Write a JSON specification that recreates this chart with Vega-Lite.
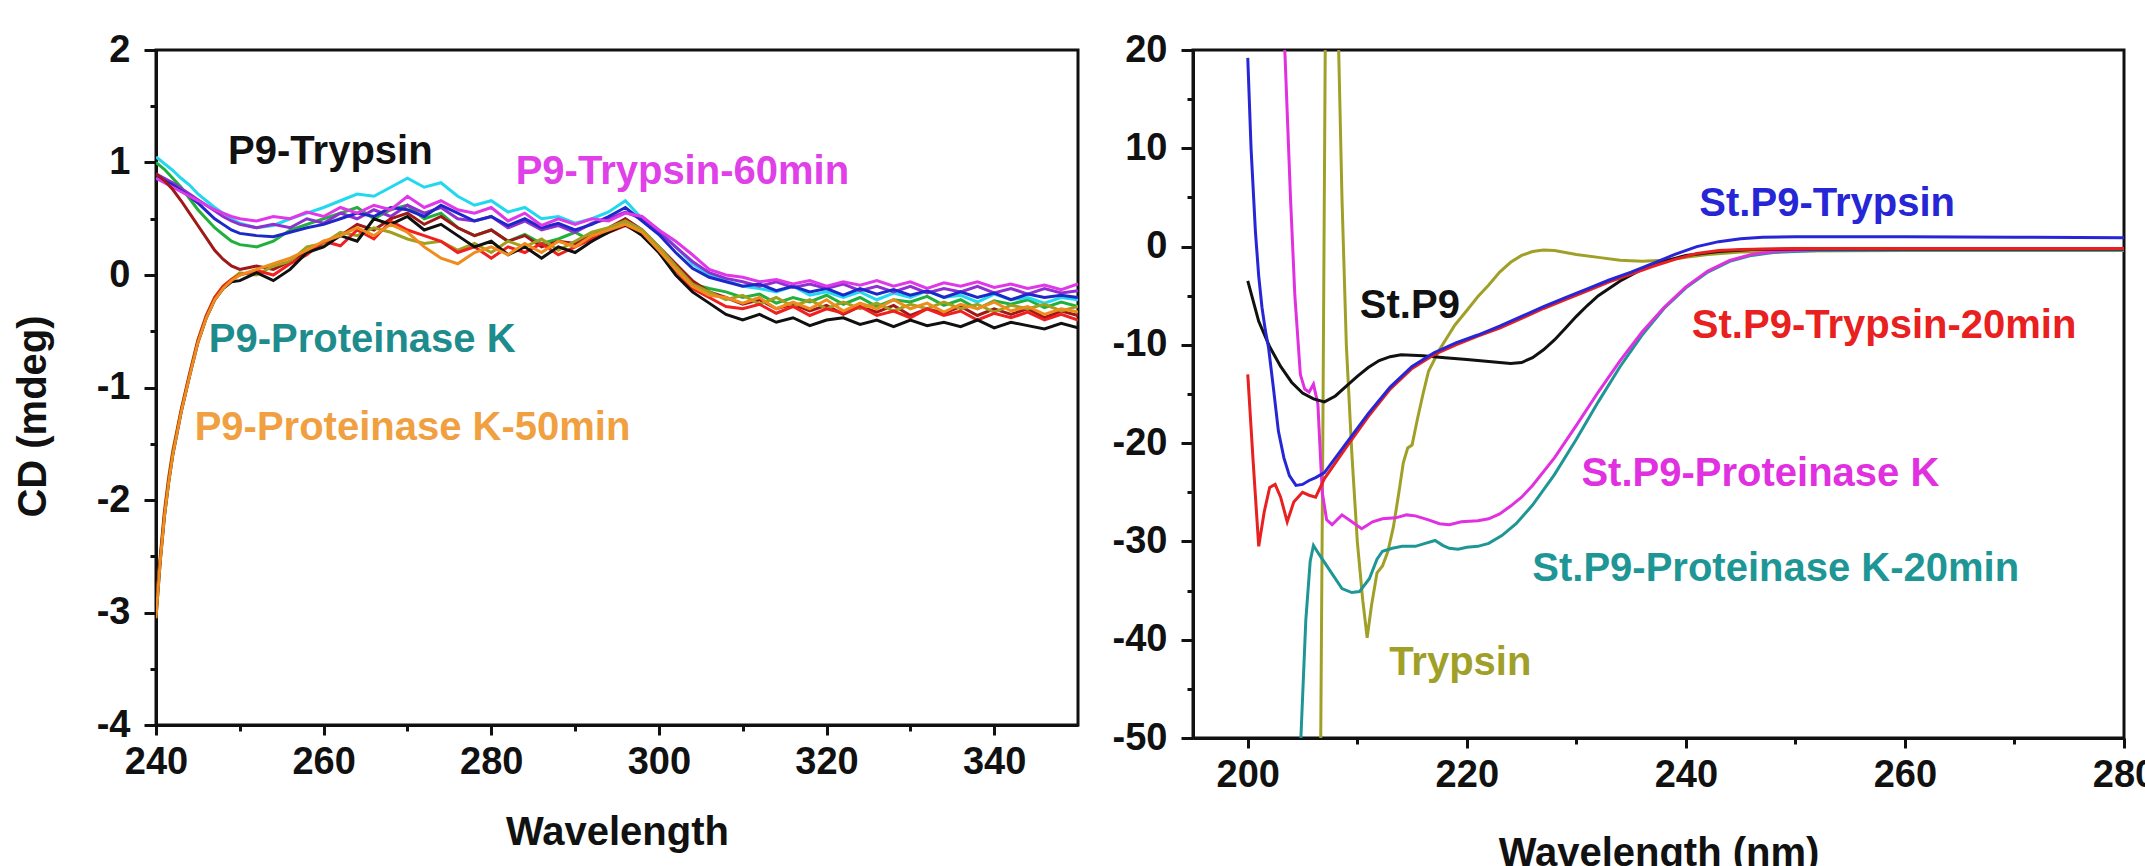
{
  "$schema": "https://vega.github.io/schema/vega-lite/v6.json",
  "background": "white",
  "padding": {"left": 11, "top": 29, "right": 0, "bottom": 0},
  "spacing": 30,
  "datasets": {
    "left": [
      {"x":240,"c":1.05,"g":1.0,"b":0.88,"m":0.86,"p":0.9,"w":0.9,"o":-3.05,"v":-3.0,"k":-3.05,"r":-3.0},
      {"x":240.5,"c":1.02,"g":0.97,"b":0.86,"m":0.84,"p":0.88,"w":0.87,"o":-2.55,"v":-2.5,"k":-2.55,"r":-2.52},
      {"x":241,"c":0.99,"g":0.94,"b":0.84,"m":0.82,"p":0.86,"w":0.84,"o":-2.15,"v":-2.1,"k":-2.15,"r":-2.12},
      {"x":241.5,"c":0.96,"g":0.9,"b":0.82,"m":0.8,"p":0.84,"w":0.8,"o":-1.85,"v":-1.8,"k":-1.85,"r":-1.82},
      {"x":242,"c":0.93,"g":0.86,"b":0.8,"m":0.78,"p":0.82,"w":0.76,"o":-1.6,"v":-1.56,"k":-1.6,"r":-1.58},
      {"x":243,"c":0.86,"g":0.78,"b":0.75,"m":0.74,"p":0.77,"w":0.66,"o":-1.22,"v":-1.2,"k":-1.22,"r":-1.2},
      {"x":244,"c":0.8,"g":0.68,"b":0.7,"m":0.7,"p":0.72,"w":0.55,"o":-0.9,"v":-0.88,"k":-0.9,"r":-0.88},
      {"x":245,"c":0.72,"g":0.58,"b":0.64,"m":0.66,"p":0.67,"w":0.44,"o":-0.6,"v":-0.58,"k":-0.6,"r":-0.58},
      {"x":246,"c":0.66,"g":0.5,"b":0.57,"m":0.62,"p":0.62,"w":0.33,"o":-0.38,"v":-0.36,"k":-0.38,"r":-0.36},
      {"x":247,"c":0.6,"g":0.42,"b":0.5,"m":0.58,"p":0.57,"w":0.22,"o":-0.22,"v":-0.2,"k":-0.22,"r":-0.2},
      {"x":248,"c":0.55,"g":0.36,"b":0.45,"m":0.55,"p":0.52,"w":0.14,"o":-0.12,"v":-0.1,"k":-0.12,"r":-0.1},
      {"x":249,"c":0.5,"g":0.3,"b":0.4,"m":0.52,"p":0.48,"w":0.08,"o":-0.05,"v":-0.04,"k":-0.06,"r":-0.04},
      {"x":250,"c":0.46,"g":0.27,"b":0.37,"m":0.5,"p":0.45,"w":0.05,"o":0.0,"v":0.02,"k":-0.05,"r":0.0},
      {"x":252,"c":0.42,"g":0.25,"b":0.35,"m":0.48,"p":0.42,"w":0.08,"o":0.05,"v":0.0,"k":0.02,"r":0.04},
      {"x":254,"c":0.44,"g":0.3,"b":0.34,"m":0.52,"p":0.45,"w":0.05,"o":0.1,"v":0.08,"k":-0.05,"r":0.0},
      {"x":256,"c":0.5,"g":0.4,"b":0.38,"m":0.5,"p":0.42,"w":0.12,"o":0.15,"v":0.12,"k":0.05,"r":0.1},
      {"x":258,"c":0.55,"g":0.45,"b":0.42,"m":0.56,"p":0.5,"w":0.2,"o":0.22,"v":0.25,"k":0.2,"r":0.18},
      {"x":260,"c":0.6,"g":0.5,"b":0.45,"m":0.52,"p":0.46,"w":0.28,"o":0.3,"v":0.28,"k":0.25,"r":0.3},
      {"x":262,"c":0.66,"g":0.55,"b":0.5,"m":0.6,"p":0.55,"w":0.35,"o":0.35,"v":0.38,"k":0.35,"r":0.26},
      {"x":264,"c":0.72,"g":0.6,"b":0.55,"m":0.55,"p":0.5,"w":0.45,"o":0.42,"v":0.35,"k":0.3,"r":0.4},
      {"x":266,"c":0.7,"g":0.5,"b":0.52,"m":0.62,"p":0.58,"w":0.4,"o":0.35,"v":0.42,"k":0.5,"r":0.32},
      {"x":268,"c":0.78,"g":0.58,"b":0.6,"m":0.58,"p":0.52,"w":0.5,"o":0.45,"v":0.38,"k":0.45,"r":0.48},
      {"x":270,"c":0.86,"g":0.62,"b":0.58,"m":0.7,"p":0.62,"w":0.55,"o":0.38,"v":0.32,"k":0.52,"r":0.4},
      {"x":272,"c":0.78,"g":0.5,"b":0.52,"m":0.6,"p":0.55,"w":0.45,"o":0.25,"v":0.28,"k":0.4,"r":0.35},
      {"x":274,"c":0.82,"g":0.55,"b":0.62,"m":0.66,"p":0.6,"w":0.52,"o":0.15,"v":0.3,"k":0.45,"r":0.3},
      {"x":276,"c":0.7,"g":0.42,"b":0.55,"m":0.58,"p":0.5,"w":0.42,"o":0.1,"v":0.22,"k":0.35,"r":0.2},
      {"x":278,"c":0.62,"g":0.35,"b":0.48,"m":0.55,"p":0.48,"w":0.35,"o":0.2,"v":0.28,"k":0.25,"r":0.25},
      {"x":280,"c":0.66,"g":0.4,"b":0.52,"m":0.6,"p":0.52,"w":0.4,"o":0.25,"v":0.2,"k":0.3,"r":0.15},
      {"x":282,"c":0.56,"g":0.3,"b":0.44,"m":0.48,"p":0.42,"w":0.3,"o":0.18,"v":0.3,"k":0.18,"r":0.25},
      {"x":284,"c":0.6,"g":0.36,"b":0.5,"m":0.55,"p":0.48,"w":0.35,"o":0.28,"v":0.25,"k":0.25,"r":0.2},
      {"x":286,"c":0.5,"g":0.28,"b":0.42,"m":0.44,"p":0.4,"w":0.25,"o":0.2,"v":0.32,"k":0.15,"r":0.28},
      {"x":288,"c":0.52,"g":0.32,"b":0.46,"m":0.5,"p":0.44,"w":0.3,"o":0.3,"v":0.22,"k":0.25,"r":0.18},
      {"x":290,"c":0.46,"g":0.38,"b":0.4,"m":0.45,"p":0.38,"w":0.28,"o":0.25,"v":0.3,"k":0.2,"r":0.25},
      {"x":292,"c":0.5,"g":0.3,"b":0.45,"m":0.5,"p":0.46,"w":0.35,"o":0.35,"v":0.38,"k":0.3,"r":0.32},
      {"x":294,"c":0.56,"g":0.4,"b":0.52,"m":0.48,"p":0.5,"w":0.42,"o":0.4,"v":0.42,"k":0.38,"r":0.38},
      {"x":296,"c":0.66,"g":0.5,"b":0.6,"m":0.55,"p":0.56,"w":0.5,"o":0.45,"v":0.48,"k":0.45,"r":0.44},
      {"x":298,"c":0.5,"g":0.38,"b":0.48,"m":0.52,"p":0.5,"w":0.4,"o":0.38,"v":0.4,"k":0.35,"r":0.36},
      {"x":300,"c":0.4,"g":0.22,"b":0.36,"m":0.4,"p":0.38,"w":0.25,"o":0.22,"v":0.25,"k":0.2,"r":0.2},
      {"x":302,"c":0.25,"g":0.05,"b":0.2,"m":0.3,"p":0.25,"w":0.1,"o":0.05,"v":0.08,"k":0.0,"r":0.04},
      {"x":304,"c":0.1,"g":-0.08,"b":0.06,"m":0.18,"p":0.12,"w":-0.05,"o":-0.1,"v":-0.08,"k":-0.15,"r":-0.12},
      {"x":306,"c":0.0,"g":-0.12,"b":-0.02,"m":0.05,"p":0.02,"w":-0.15,"o":-0.18,"v":-0.15,"k":-0.25,"r":-0.2},
      {"x":308,"c":-0.05,"g":-0.15,"b":-0.06,"m":0.0,"p":-0.03,"w":-0.2,"o":-0.2,"v":-0.22,"k":-0.35,"r":-0.28},
      {"x":310,"c":-0.1,"g":-0.2,"b":-0.1,"m":-0.02,"p":-0.06,"w":-0.26,"o":-0.25,"v":-0.18,"k":-0.4,"r":-0.3},
      {"x":312,"c":-0.12,"g":-0.17,"b":-0.08,"m":-0.06,"p":-0.1,"w":-0.22,"o":-0.2,"v":-0.26,"k":-0.35,"r":-0.26},
      {"x":314,"c":-0.15,"g":-0.25,"b":-0.14,"m":-0.04,"p":-0.06,"w":-0.3,"o":-0.3,"v":-0.2,"k":-0.42,"r":-0.34},
      {"x":316,"c":-0.1,"g":-0.2,"b":-0.1,"m":-0.08,"p":-0.11,"w":-0.26,"o":-0.24,"v":-0.28,"k":-0.38,"r":-0.28},
      {"x":318,"c":-0.18,"g":-0.24,"b":-0.15,"m":-0.05,"p":-0.08,"w":-0.32,"o":-0.3,"v":-0.22,"k":-0.45,"r":-0.36},
      {"x":320,"c":-0.15,"g":-0.18,"b":-0.12,"m":-0.1,"p":-0.12,"w":-0.27,"o":-0.22,"v":-0.3,"k":-0.4,"r":-0.3},
      {"x":322,"c":-0.2,"g":-0.26,"b":-0.18,"m":-0.06,"p":-0.08,"w":-0.35,"o":-0.32,"v":-0.24,"k":-0.38,"r":-0.34},
      {"x":324,"c":-0.15,"g":-0.2,"b":-0.12,"m":-0.09,"p":-0.14,"w":-0.28,"o":-0.25,"v":-0.3,"k":-0.44,"r":-0.28},
      {"x":326,"c":-0.22,"g":-0.28,"b":-0.17,"m":-0.05,"p":-0.1,"w":-0.33,"o":-0.3,"v":-0.25,"k":-0.4,"r":-0.36},
      {"x":328,"c":-0.16,"g":-0.22,"b":-0.13,"m":-0.1,"p":-0.15,"w":-0.27,"o":-0.22,"v":-0.32,"k":-0.46,"r":-0.32},
      {"x":330,"c":-0.2,"g":-0.24,"b":-0.18,"m":-0.06,"p":-0.1,"w":-0.36,"o":-0.3,"v":-0.26,"k":-0.4,"r":-0.38},
      {"x":332,"c":-0.14,"g":-0.19,"b":-0.14,"m":-0.12,"p":-0.16,"w":-0.3,"o":-0.25,"v":-0.3,"k":-0.45,"r":-0.3},
      {"x":334,"c":-0.2,"g":-0.27,"b":-0.2,"m":-0.07,"p":-0.12,"w":-0.34,"o":-0.33,"v":-0.24,"k":-0.42,"r":-0.36},
      {"x":336,"c":-0.18,"g":-0.22,"b":-0.15,"m":-0.1,"p":-0.15,"w":-0.28,"o":-0.26,"v":-0.3,"k":-0.46,"r":-0.32},
      {"x":338,"c":-0.24,"g":-0.3,"b":-0.2,"m":-0.06,"p":-0.1,"w":-0.36,"o":-0.3,"v":-0.26,"k":-0.4,"r":-0.4},
      {"x":340,"c":-0.17,"g":-0.23,"b":-0.16,"m":-0.11,"p":-0.16,"w":-0.3,"o":-0.24,"v":-0.33,"k":-0.47,"r":-0.34},
      {"x":342,"c":-0.22,"g":-0.26,"b":-0.22,"m":-0.08,"p":-0.12,"w":-0.35,"o":-0.32,"v":-0.27,"k":-0.42,"r":-0.38},
      {"x":344,"c":-0.2,"g":-0.22,"b":-0.17,"m":-0.12,"p":-0.17,"w":-0.3,"o":-0.28,"v":-0.3,"k":-0.45,"r":-0.33},
      {"x":346,"c":-0.25,"g":-0.29,"b":-0.2,"m":-0.09,"p":-0.12,"w":-0.38,"o":-0.35,"v":-0.26,"k":-0.48,"r":-0.4},
      {"x":348,"c":-0.2,"g":-0.24,"b":-0.18,"m":-0.13,"p":-0.16,"w":-0.32,"o":-0.3,"v":-0.32,"k":-0.43,"r":-0.35},
      {"x":350,"c":-0.22,"g":-0.28,"b":-0.2,"m":-0.08,"p":-0.14,"w":-0.36,"o":-0.33,"v":-0.28,"k":-0.47,"r":-0.4}
    ],
    "leftLabels": [
      {"label":"P9-Trypsin","x":260.8,"y":1.09},
      {"label":"P9-Trypsin-60min","x":302.8,"y":0.92},
      {"label":"P9-Proteinase K","x":264.6,"y":-0.58},
      {"label":"P9-Proteinase K-50min","x":270.6,"y":-1.36}
    ],
    "right": [
      {"s":"Trypsin","x":206.6,"y":-60},{"s":"Trypsin","x":206.85,"y":-20},{"s":"Trypsin","x":207.1,"y":25},{"s":"Trypsin","x":208.2,"y":25},
      {"s":"Trypsin","x":208.6,"y":5},{"s":"Trypsin","x":209,"y":-10},{"s":"Trypsin","x":209.5,"y":-21},{"s":"Trypsin","x":210,"y":-30},
      {"s":"Trypsin","x":210.5,"y":-36},{"s":"Trypsin","x":210.9,"y":-39.8},{"s":"Trypsin","x":211.3,"y":-36.5},{"s":"Trypsin","x":211.8,"y":-33.2},
      {"s":"Trypsin","x":212.3,"y":-32.5},{"s":"Trypsin","x":212.8,"y":-31},{"s":"Trypsin","x":213.3,"y":-28.5},{"s":"Trypsin","x":213.8,"y":-25},
      {"s":"Trypsin","x":214.2,"y":-22},{"s":"Trypsin","x":214.6,"y":-20.5},{"s":"Trypsin","x":215,"y":-20.2},{"s":"Trypsin","x":215.5,"y":-17.5},
      {"s":"Trypsin","x":216,"y":-15},{"s":"Trypsin","x":216.5,"y":-12.7},{"s":"Trypsin","x":217.5,"y":-10.5},{"s":"Trypsin","x":218.9,"y":-8},
      {"s":"Trypsin","x":220,"y":-6.5},{"s":"Trypsin","x":221,"y":-5.1},{"s":"Trypsin","x":222,"y":-3.9},{"s":"Trypsin","x":223,"y":-2.6},
      {"s":"Trypsin","x":224,"y":-1.6},{"s":"Trypsin","x":225,"y":-0.9},{"s":"Trypsin","x":226,"y":-0.5},{"s":"Trypsin","x":227,"y":-0.35},
      {"s":"Trypsin","x":228,"y":-0.4},{"s":"Trypsin","x":229,"y":-0.6},{"s":"Trypsin","x":230,"y":-0.8},{"s":"Trypsin","x":232,"y":-1.1},
      {"s":"Trypsin","x":234,"y":-1.4},{"s":"Trypsin","x":236,"y":-1.5},{"s":"Trypsin","x":238,"y":-1.4},{"s":"Trypsin","x":240,"y":-1.1},
      {"s":"Trypsin","x":242,"y":-0.8},{"s":"Trypsin","x":245,"y":-0.55},{"s":"Trypsin","x":250,"y":-0.45},{"s":"Trypsin","x":260,"y":-0.4},
      {"s":"Trypsin","x":270,"y":-0.4},{"s":"Trypsin","x":280,"y":-0.4},

      {"s":"St.P9-Proteinase K-20min","x":204.6,"y":-60},{"s":"St.P9-Proteinase K-20min","x":204.85,"y":-50},{"s":"St.P9-Proteinase K-20min","x":205.3,"y":-38},
      {"s":"St.P9-Proteinase K-20min","x":205.7,"y":-32},{"s":"St.P9-Proteinase K-20min","x":206,"y":-30.4},{"s":"St.P9-Proteinase K-20min","x":206.5,"y":-31.3},
      {"s":"St.P9-Proteinase K-20min","x":207.4,"y":-32.8},{"s":"St.P9-Proteinase K-20min","x":208.6,"y":-34.8},{"s":"St.P9-Proteinase K-20min","x":209.5,"y":-35.2},
      {"s":"St.P9-Proteinase K-20min","x":210.2,"y":-35.1},{"s":"St.P9-Proteinase K-20min","x":211.1,"y":-33.8},{"s":"St.P9-Proteinase K-20min","x":211.8,"y":-31.8},
      {"s":"St.P9-Proteinase K-20min","x":212.3,"y":-31},{"s":"St.P9-Proteinase K-20min","x":213.2,"y":-30.7},{"s":"St.P9-Proteinase K-20min","x":214.1,"y":-30.5},
      {"s":"St.P9-Proteinase K-20min","x":215.3,"y":-30.5},{"s":"St.P9-Proteinase K-20min","x":216.2,"y":-30.2},{"s":"St.P9-Proteinase K-20min","x":217.1,"y":-29.9},
      {"s":"St.P9-Proteinase K-20min","x":217.8,"y":-30.4},{"s":"St.P9-Proteinase K-20min","x":218.4,"y":-30.7},{"s":"St.P9-Proteinase K-20min","x":219.2,"y":-30.8},
      {"s":"St.P9-Proteinase K-20min","x":220,"y":-30.6},{"s":"St.P9-Proteinase K-20min","x":221,"y":-30.5},{"s":"St.P9-Proteinase K-20min","x":222,"y":-30.2},
      {"s":"St.P9-Proteinase K-20min","x":223.2,"y":-29.4},{"s":"St.P9-Proteinase K-20min","x":224.5,"y":-28.2},{"s":"St.P9-Proteinase K-20min","x":226,"y":-26.3},
      {"s":"St.P9-Proteinase K-20min","x":228,"y":-23.2},{"s":"St.P9-Proteinase K-20min","x":230,"y":-19.6},{"s":"St.P9-Proteinase K-20min","x":232,"y":-15.8},
      {"s":"St.P9-Proteinase K-20min","x":234,"y":-12.2},{"s":"St.P9-Proteinase K-20min","x":236,"y":-9},{"s":"St.P9-Proteinase K-20min","x":238,"y":-6.3},
      {"s":"St.P9-Proteinase K-20min","x":240,"y":-4.2},{"s":"St.P9-Proteinase K-20min","x":242,"y":-2.6},{"s":"St.P9-Proteinase K-20min","x":244,"y":-1.5},
      {"s":"St.P9-Proteinase K-20min","x":246,"y":-0.9},{"s":"St.P9-Proteinase K-20min","x":248,"y":-0.6},{"s":"St.P9-Proteinase K-20min","x":252,"y":-0.4},
      {"s":"St.P9-Proteinase K-20min","x":260,"y":-0.35},{"s":"St.P9-Proteinase K-20min","x":270,"y":-0.35},{"s":"St.P9-Proteinase K-20min","x":280,"y":-0.35},

      {"s":"St.P9-Proteinase K","x":203.1,"y":24},{"s":"St.P9-Proteinase K","x":203.4,"y":19.5},{"s":"St.P9-Proteinase K","x":203.9,"y":5},
      {"s":"St.P9-Proteinase K","x":204.3,"y":-5},{"s":"St.P9-Proteinase K","x":204.8,"y":-13},{"s":"St.P9-Proteinase K","x":205.2,"y":-14.5},
      {"s":"St.P9-Proteinase K","x":205.6,"y":-14.8},{"s":"St.P9-Proteinase K","x":206,"y":-14},{"s":"St.P9-Proteinase K","x":206.4,"y":-16},
      {"s":"St.P9-Proteinase K","x":206.8,"y":-25},{"s":"St.P9-Proteinase K","x":207.2,"y":-27.8},{"s":"St.P9-Proteinase K","x":207.7,"y":-28.3},
      {"s":"St.P9-Proteinase K","x":208.6,"y":-27.3},{"s":"St.P9-Proteinase K","x":209.5,"y":-28},{"s":"St.P9-Proteinase K","x":210.4,"y":-28.7},
      {"s":"St.P9-Proteinase K","x":211.4,"y":-28},{"s":"St.P9-Proteinase K","x":212.3,"y":-27.7},{"s":"St.P9-Proteinase K","x":213.5,"y":-27.6},
      {"s":"St.P9-Proteinase K","x":214.5,"y":-27.3},{"s":"St.P9-Proteinase K","x":215.3,"y":-27.4},{"s":"St.P9-Proteinase K","x":216.5,"y":-27.8},
      {"s":"St.P9-Proteinase K","x":217.5,"y":-28.2},{"s":"St.P9-Proteinase K","x":218.4,"y":-28.3},{"s":"St.P9-Proteinase K","x":219.5,"y":-28},
      {"s":"St.P9-Proteinase K","x":221,"y":-27.9},{"s":"St.P9-Proteinase K","x":222,"y":-27.7},{"s":"St.P9-Proteinase K","x":223,"y":-27.2},
      {"s":"St.P9-Proteinase K","x":224,"y":-26.4},{"s":"St.P9-Proteinase K","x":225,"y":-25.5},{"s":"St.P9-Proteinase K","x":226,"y":-24.3},
      {"s":"St.P9-Proteinase K","x":228,"y":-21.5},{"s":"St.P9-Proteinase K","x":230,"y":-18.2},{"s":"St.P9-Proteinase K","x":232,"y":-14.8},
      {"s":"St.P9-Proteinase K","x":234,"y":-11.6},{"s":"St.P9-Proteinase K","x":236,"y":-8.7},{"s":"St.P9-Proteinase K","x":238,"y":-6.2},
      {"s":"St.P9-Proteinase K","x":240,"y":-4.1},{"s":"St.P9-Proteinase K","x":242,"y":-2.5},{"s":"St.P9-Proteinase K","x":244,"y":-1.4},
      {"s":"St.P9-Proteinase K","x":246,"y":-0.8},{"s":"St.P9-Proteinase K","x":248,"y":-0.5},{"s":"St.P9-Proteinase K","x":252,"y":-0.3},
      {"s":"St.P9-Proteinase K","x":260,"y":-0.25},{"s":"St.P9-Proteinase K","x":270,"y":-0.25},{"s":"St.P9-Proteinase K","x":280,"y":-0.25},

      {"s":"St.P9","x":200,"y":-3.5},{"s":"St.P9","x":201,"y":-7.6},{"s":"St.P9","x":202,"y":-10.2},{"s":"St.P9","x":203,"y":-12.2},
      {"s":"St.P9","x":204,"y":-13.8},{"s":"St.P9","x":205,"y":-14.9},{"s":"St.P9","x":206,"y":-15.5},{"s":"St.P9","x":207,"y":-15.8},
      {"s":"St.P9","x":208,"y":-15.2},{"s":"St.P9","x":209,"y":-14.2},{"s":"St.P9","x":210,"y":-13.2},{"s":"St.P9","x":211,"y":-12.3},
      {"s":"St.P9","x":212,"y":-11.6},{"s":"St.P9","x":213,"y":-11.2},{"s":"St.P9","x":214,"y":-11.0},{"s":"St.P9","x":216,"y":-11.1},
      {"s":"St.P9","x":218,"y":-11.3},{"s":"St.P9","x":220,"y":-11.5},{"s":"St.P9","x":222,"y":-11.7},{"s":"St.P9","x":224,"y":-11.9},
      {"s":"St.P9","x":225,"y":-11.8},{"s":"St.P9","x":226,"y":-11.3},{"s":"St.P9","x":227,"y":-10.5},{"s":"St.P9","x":228,"y":-9.5},
      {"s":"St.P9","x":229,"y":-8.3},{"s":"St.P9","x":230,"y":-7.1},{"s":"St.P9","x":231,"y":-6.0},{"s":"St.P9","x":232,"y":-5.0},
      {"s":"St.P9","x":234,"y":-3.5},{"s":"St.P9","x":236,"y":-2.3},{"s":"St.P9","x":238,"y":-1.5},{"s":"St.P9","x":240,"y":-0.9},
      {"s":"St.P9","x":243,"y":-0.5},{"s":"St.P9","x":246,"y":-0.3},{"s":"St.P9","x":250,"y":-0.25},{"s":"St.P9","x":260,"y":-0.25},
      {"s":"St.P9","x":270,"y":-0.25},{"s":"St.P9","x":280,"y":-0.25},

      {"s":"St.P9-Trypsin-20min","x":200,"y":-13},{"s":"St.P9-Trypsin-20min","x":200.5,"y":-22},{"s":"St.P9-Trypsin-20min","x":201,"y":-30.5},
      {"s":"St.P9-Trypsin-20min","x":201.5,"y":-27},{"s":"St.P9-Trypsin-20min","x":202,"y":-24.5},{"s":"St.P9-Trypsin-20min","x":202.5,"y":-24.2},
      {"s":"St.P9-Trypsin-20min","x":203,"y":-25.5},{"s":"St.P9-Trypsin-20min","x":203.6,"y":-28},{"s":"St.P9-Trypsin-20min","x":204.2,"y":-26},
      {"s":"St.P9-Trypsin-20min","x":205,"y":-25},{"s":"St.P9-Trypsin-20min","x":205.6,"y":-25.3},{"s":"St.P9-Trypsin-20min","x":206.2,"y":-25.5},
      {"s":"St.P9-Trypsin-20min","x":207,"y":-23.6},{"s":"St.P9-Trypsin-20min","x":209,"y":-20.4},{"s":"St.P9-Trypsin-20min","x":211,"y":-17.3},
      {"s":"St.P9-Trypsin-20min","x":213,"y":-14.5},{"s":"St.P9-Trypsin-20min","x":215,"y":-12.4},{"s":"St.P9-Trypsin-20min","x":217,"y":-11},
      {"s":"St.P9-Trypsin-20min","x":219,"y":-10},{"s":"St.P9-Trypsin-20min","x":221,"y":-9.1},{"s":"St.P9-Trypsin-20min","x":223,"y":-8.3},
      {"s":"St.P9-Trypsin-20min","x":225,"y":-7.3},{"s":"St.P9-Trypsin-20min","x":227,"y":-6.3},{"s":"St.P9-Trypsin-20min","x":229,"y":-5.4},
      {"s":"St.P9-Trypsin-20min","x":231,"y":-4.5},{"s":"St.P9-Trypsin-20min","x":233,"y":-3.6},{"s":"St.P9-Trypsin-20min","x":235,"y":-2.8},
      {"s":"St.P9-Trypsin-20min","x":237,"y":-2},{"s":"St.P9-Trypsin-20min","x":239,"y":-1.3},{"s":"St.P9-Trypsin-20min","x":241,"y":-0.7},
      {"s":"St.P9-Trypsin-20min","x":243,"y":-0.4},{"s":"St.P9-Trypsin-20min","x":245,"y":-0.3},{"s":"St.P9-Trypsin-20min","x":250,"y":-0.2},
      {"s":"St.P9-Trypsin-20min","x":260,"y":-0.2},{"s":"St.P9-Trypsin-20min","x":270,"y":-0.2},{"s":"St.P9-Trypsin-20min","x":280,"y":-0.2},

      {"s":"St.P9-Trypsin","x":200,"y":19.2},{"s":"St.P9-Trypsin","x":200.3,"y":10},{"s":"St.P9-Trypsin","x":200.7,"y":1.5},
      {"s":"St.P9-Trypsin","x":201,"y":-3},{"s":"St.P9-Trypsin","x":201.3,"y":-6.2},{"s":"St.P9-Trypsin","x":201.6,"y":-8.5},
      {"s":"St.P9-Trypsin","x":201.9,"y":-10.3},{"s":"St.P9-Trypsin","x":202.3,"y":-14},{"s":"St.P9-Trypsin","x":202.8,"y":-18.8},
      {"s":"St.P9-Trypsin","x":203.3,"y":-21.5},{"s":"St.P9-Trypsin","x":203.8,"y":-23.3},{"s":"St.P9-Trypsin","x":204.4,"y":-24.3},
      {"s":"St.P9-Trypsin","x":205,"y":-24.2},{"s":"St.P9-Trypsin","x":205.6,"y":-23.8},{"s":"St.P9-Trypsin","x":206.2,"y":-23.5},
      {"s":"St.P9-Trypsin","x":207,"y":-23},{"s":"St.P9-Trypsin","x":209,"y":-20},{"s":"St.P9-Trypsin","x":211,"y":-17},
      {"s":"St.P9-Trypsin","x":213,"y":-14.3},{"s":"St.P9-Trypsin","x":215,"y":-12.2},{"s":"St.P9-Trypsin","x":217,"y":-10.8},
      {"s":"St.P9-Trypsin","x":219,"y":-9.8},{"s":"St.P9-Trypsin","x":221,"y":-9},{"s":"St.P9-Trypsin","x":223,"y":-8.1},
      {"s":"St.P9-Trypsin","x":225,"y":-7.1},{"s":"St.P9-Trypsin","x":227,"y":-6.1},{"s":"St.P9-Trypsin","x":229,"y":-5.2},
      {"s":"St.P9-Trypsin","x":231,"y":-4.3},{"s":"St.P9-Trypsin","x":233,"y":-3.4},{"s":"St.P9-Trypsin","x":235,"y":-2.6},
      {"s":"St.P9-Trypsin","x":237,"y":-1.7},{"s":"St.P9-Trypsin","x":239,"y":-0.8},{"s":"St.P9-Trypsin","x":241,"y":0},
      {"s":"St.P9-Trypsin","x":243,"y":0.5},{"s":"St.P9-Trypsin","x":245,"y":0.8},{"s":"St.P9-Trypsin","x":247,"y":0.95},
      {"s":"St.P9-Trypsin","x":250,"y":1.0},{"s":"St.P9-Trypsin","x":260,"y":1.0},{"s":"St.P9-Trypsin","x":270,"y":0.95},
      {"s":"St.P9-Trypsin","x":280,"y":0.9}
    ],
    "rightLabels": [
      {"s":"St.P9-Trypsin","x":252.9,"y":4.3},
      {"s":"St.P9","x":214.8,"y":-6.0},
      {"s":"St.P9-Trypsin-20min","x":258.1,"y":-8.1},
      {"s":"St.P9-Proteinase K","x":246.8,"y":-23.1},
      {"s":"St.P9-Proteinase K-20min","x":248.2,"y":-32.8},
      {"s":"Trypsin","x":219.4,"y":-42.4}
    ]
  },
  "hconcat": [
    {
      "width": 922,
      "height": 675,
      "layer": [
        {
          "data": {"name": "left"},
          "transform": [{"fold": ["g","c","p","b","m","w","v","r","k","o"], "as": ["series","cd"]}],
          "mark": {"type": "line", "strokeWidth": 3, "clip": true},
          "encoding": {
            "x": {"field": "x", "type": "quantitative", "scale": {"domain": [240, 350], "nice": false, "zero": false},
                  "axis": {"values": [240,260,280,300,320,340], "title": "Wavelength", "tickSize": 10, "labelPadding": 8, "titlePadding": 31, "labelFlush": false}},
            "y": {"field": "cd", "type": "quantitative", "scale": {"domain": [-4, 2], "nice": false, "zero": false},
                  "axis": {"values": [-4,-3,-2,-1,0,1,2], "title": "CD (mdeg)", "tickSize": 12, "labelPadding": 14, "titlePadding": 43, "titleY": 366, "labelFlush": false,
                           "labelExpr": "replace(datum.label, '\u2212', '-')"}},
            "color": {"field": "series", "type": "nominal", "legend": null,
                      "scale": {"domain": ["g","c","p","b","m","w","v","r","k","o"],
                                "range": ["#22B03C","#22D8F0","#9030D0","#1E28C8","#E038E8","#A01818","#A0A020","#F02020","#101010","#F08C1E"]}}
          }
        },
        {
          "data": {"name": "leftLabels"},
          "mark": {"type": "text", "align": "center", "baseline": "middle"},
          "encoding": {
            "x": {"field": "x", "type": "quantitative", "axis": {"orient": "bottom", "values": [250,270,290,310,330], "labels": false, "domain": false, "tickSize": 6, "title": null}},
            "y": {"field": "y", "type": "quantitative", "axis": {"orient": "left", "values": [-3.5,-2.5,-1.5,-0.5,0.5,1.5], "labels": false, "domain": false, "tickSize": 6, "title": null}},
            "text": {"field": "label"},
            "color": {"field": "label", "type": "nominal", "legend": null,
                      "scale": {"domain": ["P9-Trypsin","P9-Trypsin-60min","P9-Proteinase K","P9-Proteinase K-50min"],
                                "range": ["#111111","#E040E8","#1E8C8C","#F0A040"]}}
          }
        }
      ],
      "resolve": {"scale": {"color": "independent"}, "axis": {"x": "independent", "y": "independent"}}
    },
    {
      "width": 931,
      "height": 688,
      "layer": [
        {
          "data": {"name": "right"},
          "mark": {"type": "line", "strokeWidth": 3, "clip": true},
          "encoding": {
            "x": {"field": "x", "type": "quantitative", "scale": {"domain": [195, 280], "nice": false, "zero": false},
                  "axis": {"values": [200,220,240,260,280], "title": "Wavelength (nm)", "tickSize": 10, "labelPadding": 8, "titlePadding": 39, "labelFlush": false}},
            "y": {"field": "y", "type": "quantitative", "scale": {"domain": [-50, 20], "nice": false, "zero": false},
                  "axis": {"values": [-50,-40,-30,-20,-10,0,10,20], "title": null, "tickSize": 12, "labelPadding": 14, "labelFlush": false,
                           "labelExpr": "replace(datum.label, '\u2212', '-')"}},
            "color": {"field": "s", "type": "nominal", "legend": null,
                      "scale": {"domain": ["Trypsin","St.P9-Proteinase K-20min","St.P9-Proteinase K","St.P9","St.P9-Trypsin-20min","St.P9-Trypsin"],
                                "range": ["#A0A028","#1E9696","#E030E0","#111111","#E82020","#2626D6"]}}
          }
        },
        {
          "data": {"name": "rightLabels"},
          "mark": {"type": "text", "align": "center", "baseline": "middle"},
          "encoding": {
            "x": {"field": "x", "type": "quantitative", "axis": {"orient": "bottom", "values": [210,230,250,270], "labels": false, "domain": false, "tickSize": 6, "title": null}},
            "y": {"field": "y", "type": "quantitative", "axis": {"orient": "left", "values": [-45,-35,-25,-15,-5,5,15], "labels": false, "domain": false, "tickSize": 6, "title": null}},
            "text": {"field": "s"},
            "color": {"field": "s", "type": "nominal", "legend": null}
          }
        }
      ],
      "resolve": {"axis": {"x": "independent", "y": "independent"}}
    }
  ],
  "config": {
    "view": {"stroke": "#111111", "strokeWidth": 3},
    "axis": {"grid": false, "domainColor": "#111111", "domainWidth": 3, "tickColor": "#111111", "tickWidth": 3,
             "labelFont": "Liberation Sans", "labelFontWeight": "bold", "labelFontSize": 38, "labelColor": "#111111",
             "titleFont": "Liberation Sans", "titleFontWeight": "bold", "titleFontSize": 40, "titleColor": "#111111"},
    "text": {"font": "Liberation Sans", "fontWeight": "bold", "fontSize": 40}
  }
}
